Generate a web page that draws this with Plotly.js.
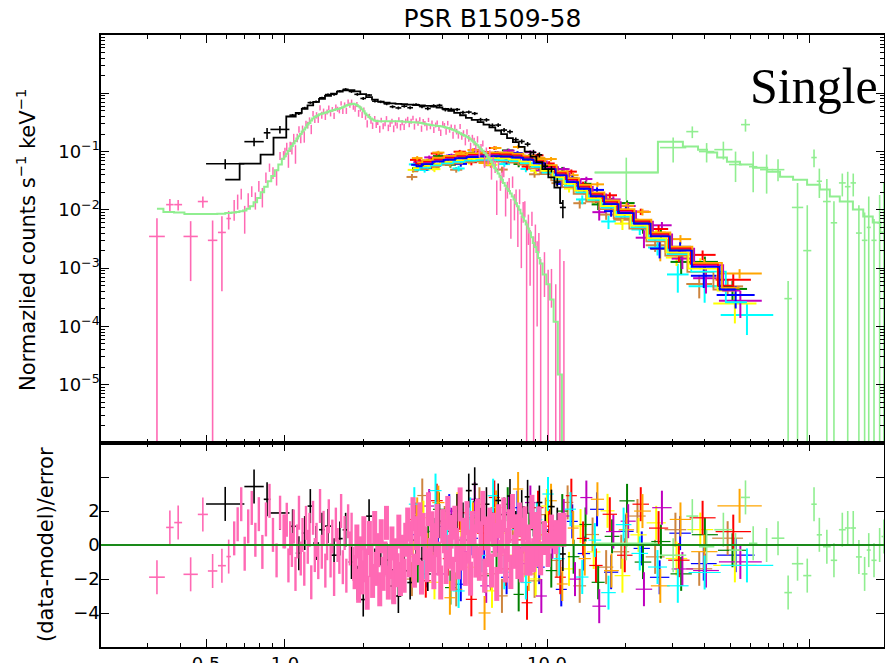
<!DOCTYPE html>
<html><head><meta charset="utf-8">
<script src="https://cdn.plot.ly/plotly-3.0.1.min.js"></script>
<style>html,body{margin:0;padding:0;background:#fff}#chart{width:885px;height:663px}</style>
</head><body><div id="chart"></div>
<script>
// ---------------- axis labels ----------------
const xTickVals = [0.5, 1, 10, 100];
const xTickText = ['0.5', '1.0', '10.0', ''];
const yTickVals = [1e-6, 1e-5, 1e-4, 1e-3, 1e-2, 1e-1, 1, 10];
const yTickText = ['', '10<sup>\u22125</sup>', '10<sup>\u22124</sup>', '10<sup>\u22123</sup>', '10<sup>\u22122</sup>', '10<sup>\u22121</sup>', '', ''];
const resTickVals = [-4, -2, 0, 2, 4];
const resTickText = ['\u22124', '\u22122', '0', '2', ''];
const specTitle = 'Normazlied counts s<sup>\u22121</sup> keV<sup>\u22121</sup>';
const resTitle = '(data-model)/error';

// ---------------- black spectrum (keV bin edges, counts/s/keV) ----------------
const blackEdges = [0.50,0.70,0.83,0.88,1.04,1.10,1.16,1.22,1.28,1.35,1.42,1.50,1.58,1.66,1.75,1.84,1.94,2.04,2.15,2.26,2.38,2.51,2.64,2.78,2.93,3.08,3.25,3.42,3.60,3.79,3.99,4.20,4.42,4.66,4.90,5.16,5.44,5.72,6.03,6.35,6.68,7.04,7.41,7.80,8.22,8.65,9.11,9.60,10.1,10.7,11.2,11.8];
const blackY = [.062,.148,.21,.24,.422,.449,.559,.691,.714,.836,.95,.96,1.09,1.17,1.074,.96,.816,.933,.733,.713,.659,.588,.561,.60,.565,.64,.591,.547,.612,.622,.525,.529,.528,.468,.476,.45,.352,.35,.281,.285,.234,.219,.16,.149,.134,.097,.088,.056,.05,.030,.011];
const blackErr = [.012,.025,.045,.035,.02,.023,.027,.031,.035,.04,.045,.05,.053,.056,.056,.054,.048,.043,.039,.036,.035,.034,.033,.033,.034,.035,.036,.037,.037,.037,.037,.036,.034,.032,.030,.028,.027,.025,.023,.021,.019,.017,.015,.013,.012,.010,.0088,.0075,.0062,.005,.0038];
const blackModel = [.033,.062,.089,.174,.40,.46,.54,.62,.71,.80,.90,.99,1.07,1.12,1.13,1.08,.97,.86,.78,.72,.69,.67,.66,.65,.64,.63,.62,.61,.59,.57,.54,.50,.46,.42,.38,.35,.32,.29,.26,.23,.20,.17,.145,.12,.10,.082,.066,.05,.036,.024,.013];

// ---------------- pink spectrum: wide low-energy bins ----------------
const pinkWideLo = [.303,.352,.378,.41,.465,.508,.555,.598];
const pinkWideHi = [.348,.376,.405,.465,.508,.552,.595,.622];
const pinkWideY = [.0035,.0123,.0123,.0035,.0139,.0030,.0041,.0071];
const pinkWideErr = [.0037,.003,.0025,.0029,.003,.0036,.0037,.0025];
const pinkWideModel = [.0105,.0092,.009,.0085,.0085,.0085,.0086,.0088];

// ---------------- pink spectrum: fine bins (centres in keV) ----------------
const pinkE = [0.640,0.660,0.681,0.702,0.724,0.747,0.771,0.795,0.820,0.846,0.873,0.900,0.929,0.958,0.988,
 1.00,1.016,1.031,1.047,1.063,1.080,1.097,1.114,1.131,1.149,1.167,1.185,1.203,1.222,1.241,1.260,1.280,1.300,1.320,1.340,1.361,1.382,1.404,1.426,1.448,1.470,1.493,1.516,1.540,1.564,1.588,1.613,1.638,1.663,1.689,1.715,1.742,1.769,1.796,1.824,
 1.852,1.881,1.910,1.940,1.970,2.00,2.03,2.06,2.10,2.13,2.16,2.20,2.23,2.26,2.30,2.33,2.37,2.41,2.44,2.48,2.52,2.56,2.60,2.64,2.68,2.72,2.76,2.80,2.85,2.89,
 2.94,2.98,3.03,3.08,3.12,3.17,3.22,3.27,3.32,3.37,3.42,3.48,3.53,3.59,3.64,3.70,3.76,3.81,3.87,3.93,4.00,4.06,4.12,4.18,4.25,4.31,4.38,4.45,4.52,4.59,
 4.66,4.73,4.80,4.88,4.95,5.03,5.11,5.19,5.27,5.35,5.43,5.52,5.60,5.69,5.78,5.87,5.96,6.05,6.14,6.24,6.34,6.43,6.53,6.64,6.74,6.84,6.95,7.06,7.17,7.28,
 7.39,7.51,7.62,7.74,7.86,7.98,8.11,8.23,8.36,8.49,8.62,8.76,8.89,9.03,9.17,9.31,9.46,9.78,10.1,10.4,10.8,11.2,11.6];
const pinkY = [.0106,.0142,.0191,.0078,.0151,.0211,.0150,.0258,.0174,.0363,.0536,.0439,.0376,.0851,.087,
 .0976,.122,.0751,.123,.117,.171,.0952,.173,.242,.173,.242,.183,.304,.286,.346,.243,.447,.36,.421,.365,.565,.422,.501,.395,.48,.567,.45,.53,.412,.588,.535,.507,.672,.50,.637,.504,.718,.632,.714,.587,
 .546,.643,.456,.542,.429,.524,.396,.302,.406,.337,.28,.374,.288,.32,.244,.347,.274,.304,.373,.257,.297,.333,.248,.31,.281,.356,.264,.315,.267,.335,
 .363,.293,.333,.378,.27,.338,.308,.358,.249,.331,.303,.26,.351,.27,.312,.236,.287,.315,.252,.212,.302,.28,.223,.308,.238,.264,.192,.262,.221,.19,
 .27,.186,.207,.152,.217,.17,.121,.174,.15,.116,.163,.098,.117,.139,.0676,.1,.0752,.0905,.0462,.0696,.0559,.02,.0567,.0305,.0371,.0457,.016,.023,.0284,.0093,
 .0306,.0126,.0172,.0069,.0175,.0045,.0098,.0107,.0029,.0054,.0025,.0073,.0015,.0039,.0015,.0029,.00034,.0011,.00036,.00059,.00025,.001,.00063];
const pinkErr = [.0041,.0041,.0040,.0039,.0042,.0044,.0049,.0054,.0064,.0075,.0087,.0099,.0115,.0132,.015,
 .0183,.0202,.0224,.0249,.0275,.0304,.0334,.0284,.0311,.034,.0374,.0408,.0338,.0377,.0403,.0442,.0481,.0507,.0527,.0546,.0566,.0579,.0455,.0465,.0475,.0485,.0495,.0505,.0515,.0525,.0535,.0545,.056,.0575,.0595,.0615,.063,.0645,.0655,.066,
 .065,.063,.06,.057,.053,.049,.045,.042,.039,.037,.0355,.034,.0335,.033,.033,.033,.033,.033,.033,.033,.033,.033,.033,.033,.033,.033,.033,.0328,.0326,.0325,
 .0324,.0322,.032,.032,.0318,.0316,.0314,.0311,.0308,.0304,.030,.0295,.029,.0287,.0284,.0281,.0279,.0276,.0274,.0272,.0296,.0292,.0286,.0281,.0274,.0267,.026,.0252,.0243,.0235,
 .0268,.0259,.025,.0242,.0234,.0224,.0212,.02,.0232,.0218,.0205,.019,.0176,.0165,.0152,.0176,.016,.0146,.0132,.0118,.013,.0118,.0105,.0093,.0083,.0093,.0083,.0074,.0067,.0061,
 .0068,.006,.0052,.0046,.005,.0035,.0038,.0033,.0034,.0029,.002,.002,.002,.0017,.0014,.0011,.0011,.00078,.00058,.00038,.00028,.0011,.0007];
const pinkModel = [.009,.0092,.0095,.0098,.0105,.0115,.0135,.016,.020,.025,.031,.038,.048,.060,.075,
 .083,.092,.102,.113,.125,.138,.152,.167,.183,.20,.22,.24,.26,.29,.31,.34,.37,.39,.405,.42,.435,.445,.455,.465,.475,.485,.495,.505,.515,.525,.535,.545,.56,.575,.595,.615,.63,.645,.655,.66,
 .65,.63,.60,.57,.53,.49,.45,.42,.39,.37,.355,.34,.335,.33,.33,.33,.33,.33,.33,.33,.33,.33,.33,.33,.33,.33,.33,.328,.326,.325,
 .324,.322,.32,.32,.318,.316,.314,.311,.308,.304,.30,.295,.29,.287,.284,.281,.279,.276,.274,.272,.269,.265,.26,.255,.249,.243,.236,.229,.221,.214,
 .206,.199,.192,.186,.18,.172,.163,.154,.145,.136,.128,.119,.11,.103,.095,.088,.080,.073,.066,.059,.052,.047,.042,.037,.033,.029,.026,.023,.021,.019,
 .017,.015,.013,.0115,.010,.0087,.0075,.0065,.0056,.0048,.0041,.0034,.0027,.0023,.0019,.0015,.0012,.00078,.00053,.00029,.00012,.000015,.0000005];

// ---------------- hard X-ray spectrum (light green) ----------------
const lgLo = [15.2,27.0,34.0,38.0,43.5,49.5,55.0,59.0,65.0,72.0,80.5,86.0,95.0,102,107,113,121,130,137,144,151,159,166,173,182,189];
const lgHi = [26.5,34.0,37.8,43.5,51.0,55.5,59.5,63.5,73.0,80.5,86.0,95.0,102,107,112,121,128,138,144,151,159,167,172,181,190,197];
const lgY = [.0437,.117,.22,.10,.108,.060,.29,.055,.049,.049,.0003,.011,.002,.079,.031,.0139,.006,.029,.025,.029,.004,.003,.005,.003,.006,.01];
const lgUp = [.035,.057,.05,.04,.04,.04,.07,.045,.04,.025,.0003,.018,.010,.03,.02,.02,.008,.013,.02,.013,.008,.006,.012,.004,.012,.02];
const lgDn = [.029,.052,.05,.035,.035,.03,.07,.035,.03,.018,.001,.012,.003,.025,.015,.015,.007,.012,.026,.012,.005,.004,.006,.004,.007,.011];
const lgRes = [0.1,-0.6,1.7,-0.1,0.9,-0.3,2.8,0.1,0.0,0.4,-2.8,-1.1,-1.8,2.4,0.6,-0.1,-0.9,0.9,1.0,1.0,-0.7,-1.7,-0.3,-0.9,0.0,0.5];
const lgModelEdges = [15.2,26.5,33.0,37.7,40.8,44.6,48.6,54.5,61.1,69.2,77.5,86.9,98.3,110,120,131,147,161,175,187,204];
const lgModel = [.0436,.148,.122,.108,.096,.079,.067,.060,.053,.045,.037,.033,.027,.0223,.0169,.0139,.0101,.0077,.0061,.0041];

// ---------------- multi-module hard band (fractional errors per channel) ----------------
const nuFrac = [.10,.09,.09,.085,.085,.085,.085,.085,.09,.09,.095,.10,.105,.11,.12,.13,.14,.15,.16,.18,.20,.23,.27,.33];

const redEdges = [3.0,3.3,3.6,4.0,4.4,4.9,5.4,6.0,6.6,7.3,8.0,8.8,9.7,10.7,11.8,13.0,14.5,16.3,18.5,21.2,24.5,29.0,35.0,44.0,60.0];
const redModel = [.0627,.0683,.0750,.0806,.0857,.0902,.0924,.0930,.0918,.0885,.0818,.0706,.056,.0437,.0336,.0258,.0190,.0140,.00986,.0065,.00392,.00224,.00118,.00050];
const redY = [.0721,.0554,.0926,.0751,.0995,.0657,.0979,.1151,.0802,.0909,.0554,.0861,.0625,.0346,.0453,.0271,.0158,.0178,.00891,.00931,.0047,.00178,.00169,.00063];

const greenEdges = [3.06,3.37,3.67,4.08,4.49,5.0,5.51,6.12,6.73,7.45,8.16,8.98,9.89,10.9,12.0,13.3,14.8,16.6,18.9,21.6,25.0,29.6,35.7,44.9,58.0];
const greenModel = [.0588,.0641,.0704,.0756,.0803,.0845,.0866,.0872,.0861,.0830,.0767,.0662,.0525,.0410,.0315,.0242,.0179,.0131,.00924,.00609,.00368,.0021,.0011,.00049];
const greenY = [.0517,.0687,.0837,.0595,.0823,.096,.0733,.0842,.1047,.0613,.0833,.0748,.0442,.050,.0289,.028,.0124,.0141,.01308,.00499,.00383,.00128,.00128,.00044];

const blueEdges = [3.03,3.33,3.64,4.04,4.44,4.95,5.45,6.06,6.67,7.37,8.08,8.89,9.8,10.8,11.9,13.1,14.6,16.5,18.7,21.4,24.7,29.3,35.4,44.4,62.0];
const blueModel = [.056,.061,.067,.072,.0765,.0805,.0825,.083,.082,.079,.073,.063,.050,.039,.030,.023,.017,.0125,.0088,.0058,.0035,.0020,.00105,.00043];
const blueY = [.0594,.0528,.0736,.0842,.0615,.0832,.0762,.095,.068,.0946,.0737,.0548,.0547,.0278,.035,.0215,.022,.0095,.00993,.00559,.00217,.00232,.00074,.000345];

const cyanEdges = [2.97,3.27,3.56,3.96,4.36,4.85,5.35,5.94,6.53,7.23,7.92,8.71,9.6,10.6,11.7,12.9,14.4,16.1,18.3,21.0,24.3,28.7,34.7,46.0,73.0];
const cyanModel = [.0487,.0531,.0583,.0626,.0666,.0700,.0718,.0722,.0713,.0687,.0635,.0548,.0435,.0339,.0261,.0200,.0148,.0109,.00766,.00505,.00305,.00174,.00087,.00026];
const cyanY = [.0604,.0483,.0751,.0653,.0513,.0807,.0681,.09,.061,.0743,.0502,.063,.0572,.0309,.0327,.0151,.0154,.00632,.00913,.0046,.00226,.00078,.00049,.000157];

const magentaEdges = [3.09,3.4,3.71,4.12,4.53,5.05,5.56,6.18,6.8,7.52,8.24,9.06,9.99,11.0,12.2,13.4,14.9,16.8,19.1,21.8,25.2,29.9,36.1,45.3,66.0];
const magentaModel = [.0605,.0659,.0724,.0778,.0826,.0869,.0891,.0896,.0886,.0853,.0788,.0680,.0540,.0421,.0324,.0248,.0184,.0135,.0095,.00626,.00378,.00216,.00113,.00041];
const magentaY = [.0659,.0795,.0613,.0857,.0798,.1068,.0709,.0942,.1038,.0769,.0975,.0476,.0551,.05,.0246,.0338,.00913,.0151,.01163,.00333,.00544,.00146,.000672,.000275];

const yellowEdges = [2.94,3.23,3.53,3.92,4.31,4.8,5.29,5.88,6.47,7.15,7.84,8.62,9.51,10.5,11.6,12.7,14.2,16.0,18.1,20.8,24.0,28.4,34.3,43.1,63.0];
const yellowModel = [.0521,.0567,.0623,.0670,.0711,.0749,.0767,.0772,.0763,.0735,.0679,.0586,.0465,.0363,.0279,.0214,.0158,.0116,.00818,.00539,.00326,.00186,.00098,.00041];
const yellowY = [.0485,.0649,.05,.0693,.0838,.0666,.0832,.0595,.0811,.0854,.0621,.0469,.0577,.0383,.0232,.0245,.0149,.0151,.00582,.00597,.00411,.00152,.00122,.000248];

const orangeEdges = [3.05,3.35,3.65,4.06,4.47,4.97,5.48,6.09,6.7,7.41,8.12,8.93,9.85,10.9,12.0,13.2,14.7,16.5,18.8,21.5,24.9,29.4,35.5,44.7,66.0];
const orangeModel = [.0655,.0714,.0784,.0842,.0895,.0942,.0965,.0971,.0959,.0924,.0854,.0737,.0585,.0456,.0351,.0269,.0199,.0146,.0103,.00679,.00410,.00234,.00123,.00046];
const orangeY = [.0773,.0695,.096,.062,.0956,.1062,.0637,.1153,.0907,.1198,.0716,.0781,.0745,.0341,.0393,.0241,.0274,.0113,.01178,.00923,.00213,.00315,.0011,.00081];

const peruEdges = [2.91,3.2,3.49,3.88,4.27,4.75,5.24,5.82,6.4,7.08,7.76,8.54,9.41,10.4,11.4,12.6,14.1,15.8,17.9,20.6,23.8,28.1,34.0,42.7,56.0];
const peruModel = [.0459,.0500,.0549,.0590,.0627,.0660,.0677,.0681,.0672,.0648,.0599,.0517,.0410,.0320,.0246,.0189,.0139,.0103,.00722,.00476,.00287,.00164,.00086,.00043];
const peruY = [.0367,.0631,.0524,.0655,.0488,.0699,.0815,.0583,.0491,.0712,.0627,.0408,.0487,.0288,.032,.013,.0151,.00829,.00676,.00622,.00247,.00198,.000535,.000487];

// ---------------- helpers ----------------
const centersOf = e => e.slice(0, -1).map((v, i) => Math.sqrt(v * e[i + 1]));
const residualsOf = (y, m, err) => y.map((v, i) => (v - m[i]) / err[i]);
const clear = 'rgba(0,0,0,0)';

function crossTrace(x, y, up, dn, xp, xm, color, w) {
  const t = {type: 'scatter', mode: 'markers', x, y, xaxis: 'x', yaxis: 'y',
    marker: {size: 2, color: clear}, hoverinfo: 'skip', showlegend: false,
    error_y: {type: 'data', symmetric: false, array: up, arrayminus: dn, color, thickness: w, width: 0}};
  if (xp) t.error_x = {type: 'data', symmetric: false, array: xp, arrayminus: xm, color, thickness: w, width: 0};
  return t;
}
function residTrace(x, r, xp, xm, color, w, wx) {
  const t = {type: 'scatter', mode: 'markers', x, y: r, xaxis: 'x2', yaxis: 'y2',
    marker: {size: 2, color: clear}, hoverinfo: 'skip', showlegend: false,
    error_y: {type: 'constant', value: 1, color, thickness: w, width: 0}};
  if (xp) t.error_x = {type: 'data', symmetric: false, array: xp, arrayminus: xm, color, thickness: wx || w, width: 0};
  return t;
}
function stepTrace(x, y, color, w, shape) {
  return {type: 'scatter', mode: 'lines', x, y, xaxis: 'x', yaxis: 'y',
    line: {color, width: w, shape: shape || 'hvh'}, hoverinfo: 'skip', showlegend: false};
}
function binnedSet(edges, y, err, model, color, w, wx) {
  const c = centersOf(edges);
  const xp = c.map((v, i) => edges[i + 1] - v);
  const xm = c.map((v, i) => v - edges[i]);
  return {
    data: crossTrace(c, y, err, err, xp, xm, color, w),
    model: stepTrace(c, model, color, 1.8),
    resid: residTrace(c, residualsOf(y, model, err), xp, xm, color, w, wx)
  };
}

const upper = [], lower = [];

// hard band modules (drawing order in the spectrum panel)
const modules = [
  ['#cd853f', peruEdges, peruY, peruModel],
  ['#00ffff', cyanEdges, cyanY, cyanModel],
  ['#ffff00', yellowEdges, yellowY, yellowModel],
  ['#008000', greenEdges, greenY, greenModel],
  ['#bf00bf', magentaEdges, magentaY, magentaModel],
  ['#ff0000', redEdges, redY, redModel],
  ['#ffa500', orangeEdges, orangeY, orangeModel],
  ['#0000ff', blueEdges, blueY, blueModel]
];
// residual panel order: cyan ends up on top
const residOrder = [7, 0, 2, 3, 4, 5, 6, 1];
const moduleSets = modules.map(([col, e, y, m]) => {
  const err = nuFrac.map((f, i) => f * m[i]);
  return binnedSet(e, y, err, m, col, 2.0, 1.2);
});
moduleSets.forEach(s => upper.push(s.data));
residOrder.forEach(k => lower.push(moduleSets[k].resid));
modules.forEach(([col, e, y, m]) => upper.push(stepTrace(centersOf(e), m, col, 1.8)));

// black spectrum (its residuals sit under the pink ones)
const blk = binnedSet(blackEdges, blackY, blackErr, blackModel, '#000000', 1.6);
lower.push(blk.resid);

// pink spectrum
const pink = '#ff69b4';
const pwC = pinkWideLo.map((v, i) => Math.sqrt(v * pinkWideHi[i]));
const pwXp = pwC.map((v, i) => pinkWideHi[i] - v);
const pwXm = pwC.map((v, i) => v - pinkWideLo[i]);
upper.push(crossTrace(pwC, pinkWideY, pinkWideErr, pinkWideErr, pwXp, pwXm, pink, 1.6));
upper.push(crossTrace(pinkE, pinkY, pinkErr, pinkErr, null, null, pink, 1.5));
upper.push(stepTrace(pwC.concat(pinkE), pinkWideModel.concat(pinkModel), '#90ee90', 2));
lower.push(residTrace(pwC, residualsOf(pinkWideY, pinkWideModel, pinkWideErr), pwXp, pwXm, pink, 1.6));
const pinkRes = residualsOf(pinkY, pinkModel, pinkErr);
// sparse channels below 1.84 keV drawn thin, the crowded ones above drawn as a dense band
const soft = pinkE.map((e, i) => i).filter(i => pinkE[i] < 1.84);
const hard = pinkE.map((e, i) => i).filter(i => pinkE[i] >= 1.84);
lower.push(residTrace(soft.map(i => pinkE[i]), soft.map(i => pinkRes[i]), null, null, pink, 2.4));
lower.push(residTrace(hard.map(i => pinkE[i]), hard.map(i => pinkRes[i]), null, null, pink, 5));

upper.push(blk.data, blk.model);

// light green hard X-ray spectrum
const lgC = lgLo.map((v, i) => Math.sqrt(v * lgHi[i]));
const lgXp = lgC.map((v, i) => lgHi[i] - v);
const lgXm = lgC.map((v, i) => v - lgLo[i]);
upper.push(crossTrace(lgC, lgY, lgUp, lgDn, lgXp, lgXm, '#90ee90', 1.6));
upper.push(stepTrace(lgModelEdges, lgModel.concat([lgModel[lgModel.length - 1]]), '#90ee90', 2, 'hv'));
lower.push(residTrace(lgC, lgRes, lgXp, lgXm, '#90ee90', 1.6));

// ---------------- axes ----------------
const xMinor = [];
[0.1, 1, 10, 100].forEach(d => { for (let k = 2; k <= 9; k++) { const v = +(k * d).toPrecision(3); if (v !== 0.5) xMinor.push(v); } });
const yMinor = [];
[1e-6, 1e-5, 1e-4, 1e-3, 1e-2, 1e-1, 1].forEach(d => { for (let k = 2; k <= 9; k++) yMinor.push(k * d); });

const axisStyle = {showline: true, linecolor: '#000', linewidth: 1.7, mirror: 'allticks',
  ticks: 'inside', ticklen: 8, tickwidth: 1, tickcolor: '#000', showgrid: false, zeroline: false};
const xBase = Object.assign({}, axisStyle, {type: 'log', range: [-0.702, 2.286],
  tickmode: 'array', tickvals: xTickVals, ticktext: xTickText,
  minor: {tickvals: xMinor, ticks: 'inside', ticklen: 4, tickwidth: 1, tickcolor: '#000'},
  tickfont: {size: 18}});

// plot area: x 101..884 px, y 35..647 px
const px = v => (v - 101) / 783;
const py = v => (647 - v) / 612;

const layout = {
  width: 885, height: 663,
  margin: {l: 101, r: 1, t: 35, b: 16, pad: 0},
  paper_bgcolor: '#fff', plot_bgcolor: '#fff',
  font: {family: 'DejaVu Sans', size: 18, color: '#000'},
  showlegend: false,
  title: {text: 'PSR B1509-58', font: {size: 25, family: 'DejaVu Sans'}, x: 0.5, xref: 'paper', xanchor: 'center',
    y: 0.973, yref: 'container', yanchor: 'middle'},
  xaxis: Object.assign({}, xBase, {anchor: 'y', showticklabels: false}),
  xaxis2: Object.assign({}, xBase, {anchor: 'y2', matches: 'x'}),
  yaxis: Object.assign({}, axisStyle, {domain: [0.3333, 1], type: 'log', range: [-6, 1],
    tickmode: 'array', tickvals: yTickVals, ticktext: yTickText,
    minor: {tickvals: yMinor, ticks: 'inside', ticklen: 4, tickwidth: 1, tickcolor: '#000'},
    tickfont: {size: 18}, ticklabelstandoff: -4}),
  yaxis2: Object.assign({}, axisStyle, {domain: [0, 0.3333], range: [-6, 6],
    tickmode: 'array', tickvals: resTickVals, ticktext: resTickText, tickfont: {size: 18}, ticklabelstandoff: -4}),
  shapes: [{type: 'line', xref: 'x2 domain', yref: 'y2', x0: 0, x1: 1, y0: 0, y1: 0,
    line: {color: '#1a8a1a', width: 2}, layer: 'above'}],
  annotations: [
    {text: 'Single', xref: 'paper', yref: 'paper', x: px(748), y: py(86),
      xanchor: 'left', yanchor: 'middle', showarrow: false,
      font: {family: 'Liberation Serif', size: 50, color: '#000'}},
    {text: specTitle, textangle: -90, xref: 'paper', yref: 'paper', x: px(26), y: py(240),
      xanchor: 'center', yanchor: 'middle', showarrow: false, font: {size: 21}},
    {text: resTitle, textangle: -90, xref: 'paper', yref: 'paper', x: px(46), y: py(544),
      xanchor: 'center', yanchor: 'middle', showarrow: false, font: {size: 21}}
  ]
};

Plotly.newPlot('chart', upper.concat(lower), layout, {displayModeBar: false, staticPlot: true});
</script>
</body></html>
